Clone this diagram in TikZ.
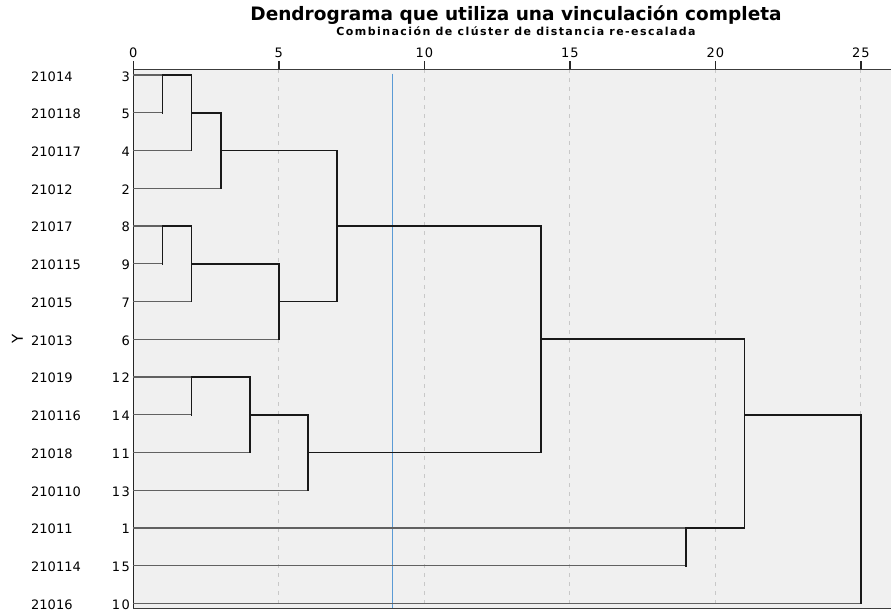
\documentclass[tikz,border=0pt]{standalone}
\usepackage{fontspec}
\setmainfont{DejaVu Sans}
\newfontfamily\subfont[LetterSpace=13]{DejaVu Sans}
\definecolor{plotbg}{RGB}{240,240,240}
\definecolor{cutblue}{RGB}{91,155,213}
\definecolor{gridgray}{RGB}{200,200,200}
\definecolor{axisgray}{RGB}{60,60,60}
\newcommand\dgx[1]{133.3+29.1*(#1)}
\newcommand\dgy[1]{-75-37.74*(#1)}
\begin{document}
\begin{tikzpicture}[x=1pt,y=1pt,
  leaf/.style={draw=black!62, line width=1.3pt},
  clus/.style={draw=black!90, line width=1.8pt, line cap=rect},
  namelbl/.style={anchor=base west, inner sep=0pt, font=\fontsize{13}{15}\selectfont},
  numlbl/.style={anchor=base east, inner sep=0pt, font=\fontsize{13}{15}\selectfont},
  ticklbl/.style={anchor=base, inner sep=0pt, font=\fontsize{13}{15}\selectfont},
  gridln/.style={draw=gridgray, line width=1.2pt, dash pattern=on 4pt off 5pt},
  axisln/.style={draw=axisgray, line width=1.2pt},
  tickln/.style={draw=black!85, line width=1.6pt},
]
\useasboundingbox (0,0) rectangle (891,-611);
\fill[white] (0,0) rectangle (891,-611);
\fill[plotbg] ({\dgx{0}},-69.3) rectangle (891,-608.3);
% grid lines
\foreach \v in {5,10,15,20,25} {
  \coordinate (gt\v) at ({\dgx{\v}},-69.3);
  \coordinate (gb\v) at ({\dgx{\v}},-608.3);
  \draw[gridln] (gt\v) -- (gb\v);
}
% cut line
\coordinate (cutT) at ({\dgx{8.9}},-73.5);
\coordinate (cutB) at ({\dgx{8.9}},-608.3);
\draw[cutblue, line width=1.2pt] (cutT) -- (cutB);
% axes
\coordinate (axTL) at ({\dgx{0}},-69.3);
\coordinate (axTR) at (891,-69.3);
\coordinate (axBL) at ({\dgx{0}},-608.3);
\coordinate (axBR) at (891,-608.3);
\coordinate (axLT) at ({\dgx{0}},-61);
\draw[axisln] (axTL) -- (axTR);
\draw[axisln] (axBL) -- (axBR);
\draw[tickln] (axLT) -- (axBL);
\foreach \v/\t in {0/0,5/5,10/1\kern1pt 0,15/1\kern1pt 5,20/2\kern1pt 0,25/2\kern1pt 5} {
  \coordinate (tk\v) at ({\dgx{\v}},-61);
  \coordinate (tb\v) at ({\dgx{\v}},-69.3);
  \draw[tickln] (tk\v) -- (tb\v);
  \node[ticklbl] (tl\v) at ({\dgx{\v}},-57.3) {\t};
}
% leaves
\foreach \r/\nm/\nu/\e in {0/21014/3/1, 1/210118/5/1, 2/210117/4/2, 3/21012/2/3,
  4/21017/8/1, 5/210115/9/1, 6/21015/7/2, 7/21013/6/5,
  8/21019/1\kern1.5pt 2/2, 9/210116/1\kern1.5pt 4/2, 10/21018/1\kern1.5pt 1/4, 11/210110/1\kern1.5pt 3/6,
  12/21011/1/19, 13/210114/1\kern1.5pt 5/19, 14/21016/1\kern1.5pt 0/25} {
  \node[namelbl] (n\r) at (31,{\dgy{\r}-6}) {\nm};
  \node[numlbl] (c\r) at (130,{\dgy{\r}-6}) {\nu};
  \coordinate (l\r) at ({\dgx{0}},{\dgy{\r}});
  \coordinate (e\r) at ({\dgx{\e}},{\dgy{\r}});
  \draw[leaf] (l\r) -- (e\r);
}
% clusters: id / merge x / row a / row b / out row / parent x
\foreach \n/\m/\a/\b/\c/\p in {1/1/0/1/0/2, 2/2/0/2/1/3, 3/3/1/3/2/7,
  4/1/4/5/4/2, 5/2/4/6/5/5, 6/5/5/7/6/7, 7/7/2/6/4/14,
  8/2/8/9/8/4, 9/4/8/10/9/6, 10/6/9/11/10/14, 11/14/4/10/7/21,
  12/19/12/13/12/21, 13/21/7/12/9/25, 14/25/9/14/9/25} {
  \coordinate (k\n a) at ({\dgx{\m}},{\dgy{\a}});
  \coordinate (k\n b) at ({\dgx{\m}},{\dgy{\b}});
  \coordinate (k\n c) at ({\dgx{\m}},{\dgy{\c}});
  \coordinate (k\n p) at ({\dgx{\p}},{\dgy{\c}});
  \draw[clus] (k\n a) -- (k\n b);
  \draw[clus] (k\n c) -- (k\n p);
}
% titles
\node[anchor=base, inner sep=0pt, font=\fontsize{18.5}{22}\selectfont\bfseries] (title) at (516,-20.7) {Dendrograma que utiliza una vinculación completa};
\node[anchor=base, inner sep=0pt, font=\subfont\fontsize{11}{13}\selectfont\bfseries] (subtitle) at (516,-35) {Combinación de clúster de distancia re-escalada};
\node[rotate=90, inner sep=0pt, font=\fontsize{15}{17}\selectfont] (ylab) at (17.5,-339) {Y};
\end{tikzpicture}
\end{document}
